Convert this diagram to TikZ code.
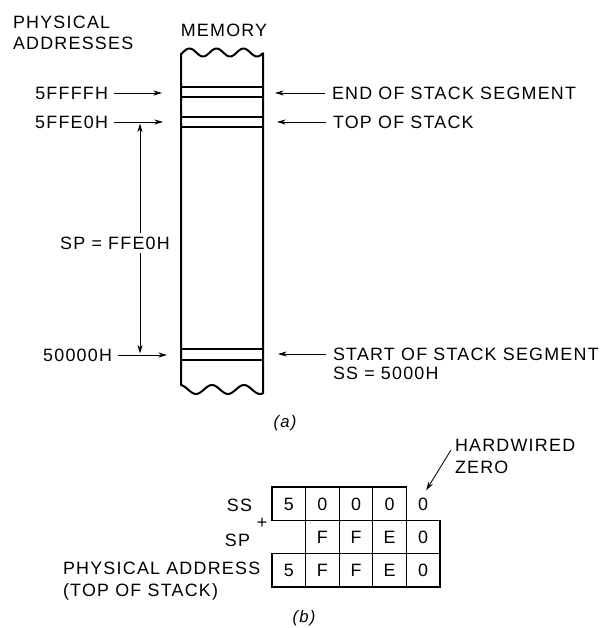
\documentclass[tikz,border=0pt]{standalone}
\usepackage{fontspec}
\setmainfont[LetterSpace=7]{Liberation Sans}
\usetikzlibrary{arrows.meta}
\begin{document}
\begin{tikzpicture}[x=0.75pt,y=-0.75pt,
  lbl/.style={inner sep=0pt, outer sep=0pt, text height=9.6pt, text depth=0pt, font=\fontsize{13.4}{15}\selectfont},
  captxt/.style={inner sep=0pt, outer sep=0pt, font=\fontsize{12.5}{14}\selectfont\itshape},
  arr/.style={line width=0.65pt, -{Stealth[length=6.5pt,width=3.8pt]}},
  dblarr/.style={line width=0.65pt, {Stealth[length=6.5pt,width=3.8pt]}-{Stealth[length=6.5pt,width=3.8pt]}},
  side/.style={line width=1.5pt, line join=round},
  band/.style={line width=1pt},
  cell/.style={lbl, draw, line width=1pt, minimum width=25.2pt, minimum height=25pt}]
\useasboundingbox (0,0) rectangle (606,628);

% headings
\node[lbl,anchor=west] (phys1) at (13,22) {PHYSICAL};
\node[lbl,anchor=west] (phys2) at (13,43) {ADDRESSES};
\node[lbl] (memlbl) at (224,30) {MEMORY};

% memory column
\draw[side] plot[domain=181:263, samples=60] (\x, {52.5+4*sin(13.333*(\x-203)+90)})
  -- plot[domain=263:181, samples=60] (\x, {389.5+4.5*sin(11.25*(\x-228)+90)}) -- cycle;
\foreach \yy in {87,97,117,127,349,360} \draw[band] (181,\yy) -- (263,\yy);

% left side
\coordinate (mL1) at (162,93);
\coordinate (mL2) at (163,122);
\coordinate (mL3) at (167,355);
\node[lbl,anchor=east] (a1) at (108,93) {5FFFFH};
\node[lbl,anchor=east] (a2) at (108,122) {5FFE0H};
\node[lbl,anchor=east] (a3) at (112,355) {50000H};
\draw[arr, shorten <=4.5pt] (a1) -- (mL1);
\draw[arr, shorten <=4.5pt] (a2) -- (mL2);
\draw[arr, shorten <=4.5pt] (a3) -- (mL3);
\coordinate (v1) at (140,123.5);
\coordinate (v2) at (140,353.5);
\draw[dblarr] (v1) -- (v2);
\node[lbl, fill=white, inner ysep=3pt] (sp) at (115,243) {SP = FFE0H};

% right side
\coordinate (mR1) at (275,93);
\coordinate (mR2) at (277,122);
\coordinate (mR3) at (278,354);
\node[lbl,anchor=west] (r1) at (332,93) {END OF STACK SEGMENT};
\node[lbl,anchor=west] (r2) at (333,122) {TOP OF STACK};
\node[lbl,anchor=west] (r3) at (333,354) {START OF STACK SEGMENT};
\node[lbl,anchor=west] (r4) at (333,373) {SS = 5000H};
\draw[arr, shorten <=5pt] (r1) -- (mR1);
\draw[arr, shorten <=5pt] (r2) -- (mR2);
\draw[arr, shorten <=5pt] (r3) -- (mR3);

\node[captxt] (capa) at (285,423) {(a)};

% part (b)
\node[cell] (c11) at (288.8,503.7) {5};
\node[cell] (c12) at (322.4,503.7) {0};
\node[cell] (c13) at (356,503.7) {0};
\node[cell] (c14) at (389.6,503.7) {0};
\node[lbl] (z0) at (423.2,503.7) {0};
\node[cell] (c22) at (322.4,537) {F};
\node[cell] (c23) at (356,537) {F};
\node[cell] (c24) at (389.6,537) {E};
\node[cell] (c25) at (423.2,537) {0};
\node[cell] (c31) at (288.8,570.3) {5};
\node[cell] (c32) at (322.4,570.3) {F};
\node[cell] (c33) at (356,570.3) {F};
\node[cell] (c34) at (389.6,570.3) {E};
\node[cell] (c35) at (423.2,570.3) {0};

\node[lbl,anchor=east] (ss) at (252,505) {SS};
\node[lbl] (plus) at (262,522) {+};
\node[lbl,anchor=east] (spl) at (250,540) {SP};
\node[lbl,anchor=west] (pa1) at (63,568) {PHYSICAL ADDRESS};
\node[lbl,anchor=west] (pa2) at (63,590) {(TOP OF STACK)};

\node[lbl,anchor=west] (hw1) at (455,445) {HARDWIRED};
\node[lbl,anchor=west] (hw2) at (455,467) {ZERO};
\draw[arr] ([shift={(-4,5)}]hw1.west) -- ([shift={(3,-7)}]z0.north);

\node[captxt] (capb) at (304,618) {(b)};
\end{tikzpicture}
\end{document}
